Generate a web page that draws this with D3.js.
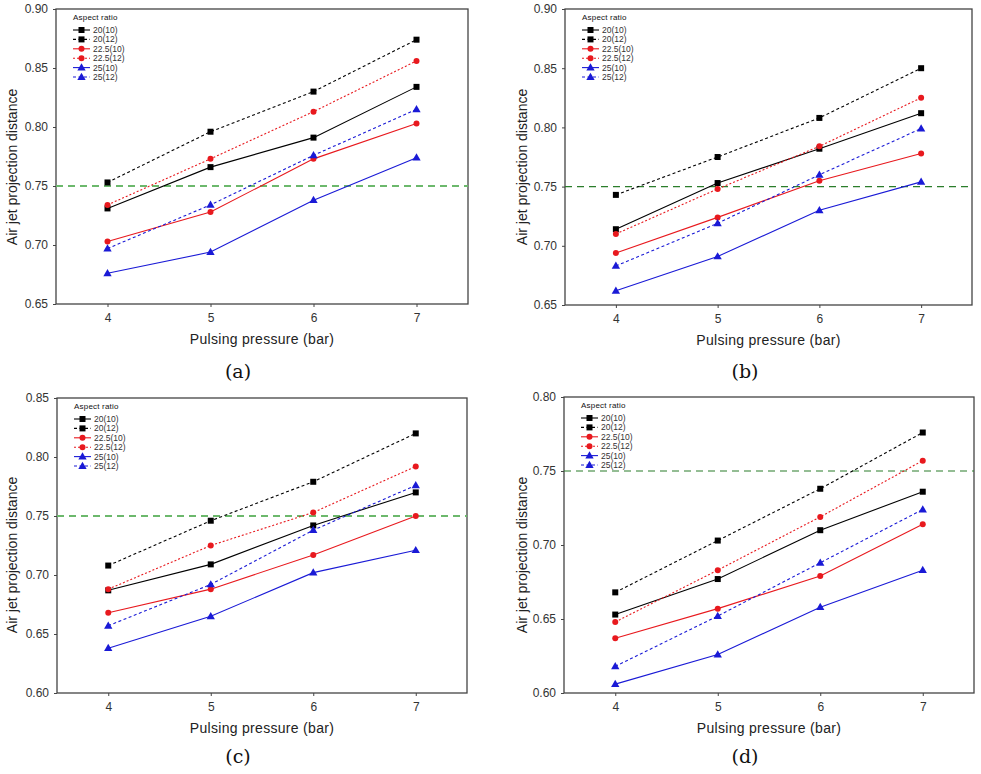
<!DOCTYPE html>
<html><head><meta charset="utf-8">
<script src="https://cdn.jsdelivr.net/npm/d3@7"></script>
<style>body{margin:0;background:#fff}svg{display:block}</style>
</head><body>
<svg id="c" width="981" height="774"></svg>
<script>
const pressures = [4, 5, 6, 7];
const seriesNames = ["20(10)", "20(12)", "22.5(10)", "22.5(12)", "25(10)", "25(12)"];
const panelLabels = ["(a)", "(b)", "(c)", "(d)"];
const yDomains = [[0.65, 0.90], [0.65, 0.90], [0.60, 0.85], [0.60, 0.80]];
const yTicks = [
  [0.65, 0.70, 0.75, 0.80, 0.85, 0.90],
  [0.65, 0.70, 0.75, 0.80, 0.85, 0.90],
  [0.60, 0.65, 0.70, 0.75, 0.80, 0.85],
  [0.60, 0.65, 0.70, 0.75, 0.80]
];
const refLine = 0.75;
// values per panel, per series (order as seriesNames)
const panelA = [
  [0.731, 0.766, 0.791, 0.834],
  [0.753, 0.796, 0.830, 0.874],
  [0.703, 0.728, 0.773, 0.803],
  [0.734, 0.773, 0.813, 0.856],
  [0.676, 0.694, 0.738, 0.774],
  [0.697, 0.734, 0.776, 0.815]
];
const panelB = [
  [0.714, 0.753, 0.782, 0.812],
  [0.743, 0.775, 0.808, 0.850],
  [0.694, 0.724, 0.755, 0.778],
  [0.710, 0.748, 0.784, 0.825],
  [0.662, 0.691, 0.730, 0.754],
  [0.683, 0.719, 0.760, 0.799]
];
const panelC = [
  [0.687, 0.709, 0.742, 0.770],
  [0.708, 0.746, 0.779, 0.820],
  [0.668, 0.688, 0.717, 0.750],
  [0.688, 0.725, 0.753, 0.792],
  [0.638, 0.665, 0.702, 0.721],
  [0.657, 0.692, 0.738, 0.776]
];
const panelD = [
  [0.653, 0.677, 0.710, 0.736],
  [0.668, 0.703, 0.738, 0.776],
  [0.637, 0.657, 0.679, 0.714],
  [0.648, 0.683, 0.719, 0.757],
  [0.606, 0.626, 0.658, 0.683],
  [0.618, 0.652, 0.688, 0.724]
];
const panelData = [panelA, panelB, panelC, panelD];

// styles
const sStyle = [
  {color:"#000000", dash:null, shape:"square"},
  {color:"#000000", dash:"3,2.5", shape:"square"},
  {color:"#e8191e", dash:null, shape:"circle"},
  {color:"#e8191e", dash:"2,2", shape:"circle"},
  {color:"#1a1ad6", dash:null, shape:"triangle"},
  {color:"#1a1ad6", dash:"3,2.5", shape:"triangle"}
];
const boxes = [
  {l:56, t:9, r:468, b:304, green:"#6cb86c", gw:2.2, gdash:"7,5", lab:{x:238,y:378}, ylab:{x:12,y:167}},
  {l:565, t:9, r:972, b:305, green:"#2b7d2b", gw:1.2, gdash:"7,5", lab:{x:745,y:378}, ylab:{x:522,y:167}},
  {l:57, t:398, r:467, b:693, green:"#6cb86c", gw:2.2, gdash:"7,5", lab:{x:238,y:763}, ylab:{x:12,y:555}},
  {l:564, t:397, r:974, b:693, green:"#2b7d2b", gw:1.2, gdash:"7,5", lab:{x:745,y:763}, ylab:{x:522,y:555}}
];

const svg = d3.select("#c");
const font = "'Liberation Sans', Arial, sans-serif";

function marker(g, shape, x, y, color) {
  if (shape === "square") {
    g.append("rect").attr("x", x-3).attr("y", y-3).attr("width", 6).attr("height", 6).attr("fill", color);
  } else if (shape === "circle") {
    g.append("circle").attr("cx", x).attr("cy", y).attr("r", 3).attr("fill", color);
  } else {
    g.append("path").attr("d", d3.symbol().type(d3.symbolTriangle).size(30)()).attr("transform", `translate(${x},${y+0.5})`).attr("fill", color);
  }
}

boxes.forEach((bx, pi) => {
  const g = svg.append("g");
  const x = d3.scaleLinear().domain([3.5, 7.5]).range([bx.l, bx.r]);
  const y = d3.scaleLinear().domain(yDomains[pi]).range([bx.b, bx.t]);

  // frame
  g.append("rect").attr("x", bx.l).attr("y", bx.t).attr("width", bx.r-bx.l).attr("height", bx.b-bx.t)
    .attr("fill", "none").attr("stroke", "#444").attr("stroke-width", 1.3);

  // axes
  const yAxis = d3.axisLeft(y).tickValues(yTicks[pi]).tickFormat(d3.format(".2f")).tickSize(3).tickPadding(5);
  const ya = g.append("g").attr("transform", `translate(${bx.l},0)`).call(yAxis);
  const xAxis = d3.axisBottom(x).tickValues(pressures).tickFormat(d3.format("d")).tickSize(3).tickPadding(6);
  const xa = g.append("g").attr("transform", `translate(0,${bx.b})`).call(xAxis);
  [ya, xa].forEach(a => {
    a.select(".domain").remove();
    a.selectAll("line").attr("stroke", "#444");
    a.selectAll("text").attr("font-family", font).attr("font-size", 12).attr("fill", "#333");
  });

  // reference line
  g.append("line").attr("x1", bx.l).attr("x2", bx.r).attr("y1", y(refLine)).attr("y2", y(refLine))
    .attr("stroke", bx.green).attr("stroke-width", bx.gw).attr("stroke-dasharray", bx.gdash);

  // series
  const line = d3.line().x((d, i) => x(pressures[i])).y(d => y(d));
  panelData[pi].forEach((vals, si) => {
    const st = sStyle[si];
    g.append("path").datum(vals).attr("d", line).attr("fill", "none")
      .attr("stroke", st.color).attr("stroke-width", 1.1)
      .attr("stroke-dasharray", st.dash);
    vals.forEach((v, i) => marker(g, st.shape, x(pressures[i]), y(v), st.color));
  });

  // legend
  const lx = bx.l + 17, ly = bx.t + 8;
  g.append("text").attr("x", lx).attr("y", ly + 3).text("Aspect ratio")
    .attr("font-family", font).attr("font-size", 8).attr("fill", "#111").attr("letter-spacing", 0.2);
  seriesNames.forEach((nm, si) => {
    const st = sStyle[si];
    const yy = ly + 13 + si * 9.4;
    g.append("line").attr("x1", lx).attr("x2", lx + 17).attr("y1", yy).attr("y2", yy)
      .attr("stroke", st.color).attr("stroke-width", 1.1).attr("stroke-dasharray", st.dash);
    marker(g, st.shape, lx + 8.5, yy, st.color);
    g.append("text").attr("x", lx + 20).attr("y", yy + 3).text(nm)
      .attr("font-family", font).attr("font-size", 8.5).attr("fill", "#333");
  });

  // axis titles
  g.append("text").attr("x", (bx.l + bx.r) / 2).attr("y", bx.b + 40).attr("text-anchor", "middle")
    .attr("font-family", font).attr("font-size", 14).attr("fill", "#222").attr("letter-spacing", 0.3)
    .text("Pulsing pressure (bar)");
  g.append("text").attr("transform", `translate(${bx.ylab.x + 5},${bx.ylab.y}) rotate(-90)`)
    .attr("text-anchor", "middle").attr("font-family", font).attr("font-size", 14).attr("fill", "#222")
    .text("Air jet projection distance");
  g.append("text").attr("x", bx.lab.x).attr("y", bx.lab.y).attr("text-anchor", "middle")
    .attr("font-family", "'DejaVu Serif', 'Liberation Serif', serif").attr("font-size", 19).attr("fill", "#111")
    .text(panelLabels[pi]);
});
</script>
</body></html>
